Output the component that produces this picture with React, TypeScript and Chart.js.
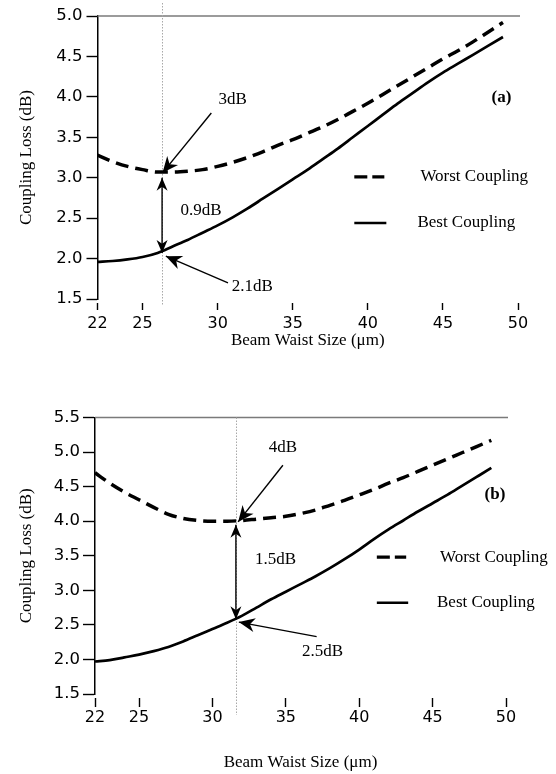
import React, { useEffect, useRef } from "react";
import { Chart, registerables } from "chart.js";

Chart.register(...registerables);

// ---------- data ----------
const BEAM_WAIST = [22, 23, 24, 25, 26, 27, 28, 29, 30, 31, 32, 33, 34, 35, 36, 37, 38, 39, 40, 41, 42, 43, 44, 45, 46, 47, 48, 49];

const WORST_A = [3.28, 3.2, 3.14, 3.1, 3.07, 3.07, 3.08, 3.1, 3.14, 3.19, 3.25, 3.32, 3.4, 3.47, 3.55, 3.63, 3.72, 3.82, 3.92, 4.03, 4.14, 4.25, 4.36, 4.47, 4.57, 4.68, 4.8, 4.92];
const BEST_A = [1.96, 1.97, 1.99, 2.02, 2.07, 2.15, 2.23, 2.32, 2.41, 2.51, 2.62, 2.74, 2.86, 2.98, 3.1, 3.23, 3.36, 3.5, 3.64, 3.78, 3.92, 4.05, 4.18, 4.3, 4.41, 4.52, 4.63, 4.74];

const WORST_B = [4.7, 4.55, 4.42, 4.31, 4.2, 4.1, 4.04, 4.01, 4.0, 4.0, 4.01, 4.03, 4.05, 4.07, 4.11, 4.16, 4.23, 4.3, 4.38, 4.46, 4.55, 4.63, 4.72, 4.81, 4.9, 4.99, 5.08, 5.17];
const BEST_B = [1.97, 1.99, 2.03, 2.07, 2.12, 2.18, 2.26, 2.35, 2.44, 2.53, 2.63, 2.75, 2.87, 2.98, 3.09, 3.2, 3.32, 3.45, 3.59, 3.74, 3.88, 4.01, 4.14, 4.26, 4.38, 4.51, 4.64, 4.77];

const X_TICKS = [22, 25, 30, 35, 40, 45, 50];
const SERIES_LABELS = ["Worst Coupling", "Best Coupling"];

// annotation content (value coordinates)
const MARKER_A = 26.3;
const MARKER_B = 31.6;
const ARROWS_A = [
  { from: [29.58, 3.8], to: [26.33, 3.06], both: false },
  { from: [26.3, 2.07], to: [26.3, 3.0], both: true },
  { from: [30.69, 1.7], to: [26.55, 2.03], both: false },
];
const ARROWS_B = [
  { from: [34.8, 4.81], to: [31.75, 3.99], both: false },
  { from: [31.6, 2.58], to: [31.6, 3.95], both: true },
  { from: [37.1, 2.33], to: [31.8, 2.54], both: false },
];
const LABELS_A = [
  { text: "3dB", at: [31.0, 3.97], bold: false },
  { text: "0.9dB", at: [28.9, 2.6], bold: false },
  { text: "2.1dB", at: [32.3, 1.65], bold: false },
  { text: "(a)", at: [48.9, 3.99], bold: true },
];
const LABELS_B = [
  { text: "4dB", at: [34.8, 5.06], bold: false },
  { text: "1.5dB", at: [34.3, 3.44], bold: false },
  { text: "2.5dB", at: [37.5, 2.11], bold: false },
  { text: "(b)", at: [49.25, 4.38], bold: true },
];
const LEGEND_A = { lineX: [39.1, 41.1], textX: [43.5, 43.3], y: [3.01, 2.44] };
const LEGEND_B = { lineX: [41.2, 43.2], textX: [45.5, 45.3], y: [3.48, 2.82] };

const SERIF = "'Liberation Serif', 'Times New Roman', serif";
const SANS = "'DejaVu Sans', Verdana, sans-serif";

function drawHead(ctx: CanvasRenderingContext2D, tx: number, ty: number, fx: number, fy: number, len: number, half: number) {
  const a = Math.atan2(ty - fy, tx - fx);
  const c = Math.cos(a);
  const s = Math.sin(a);
  const bx = tx - len * c;
  const by = ty - len * s;
  const nx = tx - len * 0.7 * c;
  const ny = ty - len * 0.7 * s;
  ctx.beginPath();
  ctx.moveTo(tx, ty);
  ctx.lineTo(bx - half * s, by + half * c);
  ctx.lineTo(nx, ny);
  ctx.lineTo(bx + half * s, by - half * c);
  ctx.closePath();
  ctx.fill();
}

function makeDecor(cfg: any) {
  return {
    id: "decor",
    beforeDatasetsDraw(chart: any) {
      const { ctx, chartArea } = chart;
      const x = chart.scales.x;
      ctx.save();
      ctx.strokeStyle = "#7a7a7a";
      ctx.lineWidth = 1.4;
      ctx.beginPath();
      ctx.moveTo(x.getPixelForValue(22), chartArea.top);
      ctx.lineTo(x.getPixelForValue(50) + 2, chartArea.top);
      ctx.stroke();
      const dx = Math.round(x.getPixelForValue(cfg.marker)) + 0.5;
      ctx.strokeStyle = "#a8a8a8";
      ctx.lineWidth = 1;
      ctx.setLineDash([1.5, 1.5]);
      ctx.beginPath();
      ctx.moveTo(dx, chartArea.top - cfg.markerTop);
      ctx.lineTo(dx, chartArea.bottom + cfg.markerBottom);
      ctx.stroke();
      ctx.restore();
    },
    afterDatasetsDraw(chart: any) {
      const { ctx } = chart;
      const x = chart.scales.x;
      const y = chart.scales.y;
      ctx.save();
      ctx.strokeStyle = "#000";
      ctx.fillStyle = "#000";
      // arrows
      cfg.arrows.forEach((ar: any) => {
        const x1 = x.getPixelForValue(ar.from[0]);
        const y1 = y.getPixelForValue(ar.from[1]);
        const x2 = x.getPixelForValue(ar.to[0]);
        const y2 = y.getPixelForValue(ar.to[1]);
        const len = ar.both ? 13 : 16;
        const half = ar.both ? 5.5 : 7;
        ctx.lineWidth = 1.4;
        ctx.setLineDash([]);
        ctx.beginPath();
        ctx.moveTo(x1, y1);
        ctx.lineTo(x2, y2);
        ctx.stroke();
        drawHead(ctx, x2, y2, x1, y1, len, half);
        if (ar.both) drawHead(ctx, x1, y1, x2, y2, len, half);
      });
      // labels
      ctx.textAlign = "center";
      ctx.textBaseline = "middle";
      cfg.labels.forEach((lb: any) => {
        ctx.font = (lb.bold ? "bold " : "") + "17px " + SERIF;
        ctx.fillText(lb.text, x.getPixelForValue(lb.at[0]), y.getPixelForValue(lb.at[1]));
      });
      // legend
      const lg = cfg.legend;
      const lx1 = x.getPixelForValue(lg.lineX[0]);
      const lx2 = x.getPixelForValue(lg.lineX[1]);
      ctx.lineWidth = 3.2;
      ctx.setLineDash([13, 5]);
      ctx.beginPath();
      ctx.moveTo(lx1, y.getPixelForValue(lg.y[0]));
      ctx.lineTo(lx2, y.getPixelForValue(lg.y[0]));
      ctx.stroke();
      ctx.setLineDash([]);
      ctx.lineWidth = 2.6;
      ctx.beginPath();
      ctx.moveTo(lx1, y.getPixelForValue(lg.y[1]));
      ctx.lineTo(lx2 + 2, y.getPixelForValue(lg.y[1]));
      ctx.stroke();
      ctx.font = "17px " + SERIF;
      ctx.textAlign = "left";
      ctx.fillText(SERIES_LABELS[0], x.getPixelForValue(lg.textX[0]), y.getPixelForValue(lg.y[0]));
      ctx.fillText(SERIES_LABELS[1], x.getPixelForValue(lg.textX[1]), y.getPixelForValue(lg.y[1]));
      ctx.restore();
    },
  };
}

function Panel(props: any) {
  const ref = useRef<HTMLCanvasElement | null>(null);
  const p = props.cfg;
  useEffect(() => {
    if (!ref.current) return;
    const chart = new Chart(ref.current, {
      type: "line",
      data: {
        datasets: [
          {
            label: SERIES_LABELS[0],
            data: BEAM_WAIST.map((v, i) => ({ x: v, y: p.worst[i] })),
            borderColor: "#000",
            borderWidth: 3.5,
            borderDash: [13, 7],
            pointRadius: 0,
            cubicInterpolationMode: "monotone",
            fill: false,
          },
          {
            label: SERIES_LABELS[1],
            data: BEAM_WAIST.map((v, i) => ({ x: v, y: p.best[i] })),
            borderColor: "#000",
            borderWidth: 2.7,
            pointRadius: 0,
            cubicInterpolationMode: "monotone",
            fill: false,
          },
        ],
      },
      options: {
        animation: false,
        responsive: false,
        maintainAspectRatio: false,
        layout: { padding: { top: p.padTop, right: p.padRight, left: 0, bottom: 0 } },
        plugins: { legend: { display: false }, tooltip: { enabled: false } },
        scales: {
          x: {
            type: "linear",
            min: 22,
            max: 50,
            afterBuildTicks: (s: any) => {
              s.ticks = X_TICKS.map((v) => ({ value: v }));
            },
            afterFit: (s: any) => {
              s.height = p.xHeight;
            },
            border: { display: false },
            grid: {
              drawOnChartArea: false,
              drawTicks: true,
              tickLength: p.xTickGap + p.xTickLen,
              tickColor: "#000",
              tickWidth: 1.4,
              tickBorderDash: [0, p.xTickGap, p.xTickLen, 200],
            },
            ticks: {
              autoSkip: false,
              maxRotation: 0,
              padding: p.xLabelPad,
              color: "#000",
              font: { family: SANS, size: 16 },
            },
            title: {
              display: true,
              text: "Beam Waist Size (μm)",
              color: "#000",
              font: { family: SERIF, size: 17 },
              padding: { top: 0, bottom: p.xTitlePad },
            },
          },
          y: {
            type: "linear",
            min: 1.5,
            max: p.yMax,
            afterFit: (s: any) => {
              s.width = p.yWidth;
            },
            border: { display: true, color: "#000", width: 1.5 },
            grid: {
              drawOnChartArea: false,
              drawTicks: true,
              tickLength: p.yTickLen,
              tickColor: "#000",
              tickWidth: 1.4,
            },
            ticks: {
              stepSize: 0.5,
              padding: p.yLabelPad,
              color: "#000",
              font: { family: SANS, size: 16.5 },
              callback: (v: any) => Number(v).toFixed(1),
            },
            title: {
              display: true,
              text: "Coupling Loss (dB)",
              color: "#000",
              font: { family: SERIF, size: 17 },
              padding: { top: 16, bottom: 0 },
            },
          },
        },
      } as any,
      plugins: [makeDecor(p)],
    });
    return () => chart.destroy();
  }, []);
  return (
    <canvas
      ref={ref}
      width={556}
      height={p.height}
      style={{ position: "absolute", left: 0, top: p.top, width: 556, height: p.height }}
    />
  );
}

const PANEL_A = {
  top: 0,
  height: 370,
  worst: WORST_A,
  best: BEST_A,
  yMax: 5.0,
  padTop: 16,
  padRight: 38,
  yWidth: 97.5,
  xHeight: 71,
  xTickGap: 4,
  xTickLen: 7,
  xLabelPad: 4,
  xTitlePad: 19,
  yTickLen: 11,
  yLabelPad: 4,
  marker: MARKER_A,
  markerTop: 13,
  markerBottom: 6,
  arrows: ARROWS_A,
  labels: LABELS_A,
  legend: LEGEND_A,
};

const PANEL_B = {
  top: 370,
  height: 404,
  worst: WORST_B,
  best: BEST_B,
  yMax: 5.5,
  padTop: 47.5,
  padRight: 50,
  yWidth: 95,
  xHeight: 80,
  xTickGap: 4,
  xTickLen: 9,
  xLabelPad: 1,
  xTitlePad: 1,
  yTickLen: 12,
  yLabelPad: 3,
  marker: MARKER_B,
  markerTop: 0,
  markerBottom: 21,
  arrows: ARROWS_B,
  labels: LABELS_B,
  legend: LEGEND_B,
};

export default function App() {
  return (
    <div style={{ position: "absolute", left: 0, top: 0, width: 556, height: 774, background: "#fff" }}>
      <Panel cfg={PANEL_A} />
      <Panel cfg={PANEL_B} />
    </div>
  );
}
